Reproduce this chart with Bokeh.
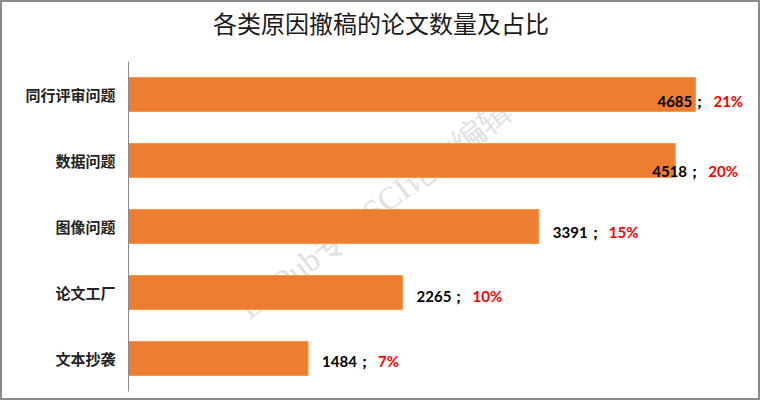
from bokeh.plotting import figure
from bokeh.models import Range1d, Label, ColumnDataSource, FixedTicker
from bokeh.core.properties import value
from bokeh.embed import file_html
from bokeh.resources import INLINE

# ---- data ----
categories = ["同行评审问题", "数据问题", "图像问题", "论文工厂", "文本抄袭"]
counts = [4685, 4518, 3391, 2265, 1484]
shares = [21, 20, 15, 10, 7]
title_text = "各类原因撤稿的论文数量及占比"
watermark_text = "LetPub专业SCI论文编辑"

# ---- label placement styles (pixels) ----
label_dx = [-38, -23, 14, 14, 14]
label_dy = [6, 10, 5, 3, 2]
pct_gap = 56

BAR = "#ED7D31"
CJK = "Noto Sans CJK SC"
X_MAX = 5140
N = len(categories)
ypos = [N - 1 - i for i in range(N)]          # first category on top
Y_TOP = N - 0.5 + 59 / 66                     # room above the bars for the title

p = figure(
    width=760, height=400,
    y_range=Range1d(-0.5, Y_TOP),
    x_range=Range1d(0, X_MAX),
    output_backend="svg", toolbar_location=None,
    min_border_left=126, min_border_right=12,
    min_border_top=0, min_border_bottom=11,
)
p.styles = {"border": "2px solid #8c8c8c"}
p.outline_line_color = None
p.background_fill_color = "white"
p.border_fill_color = "white"
p.xgrid.visible = False
p.ygrid.visible = False
p.xaxis.visible = False

ax = p.yaxis[0]
ax.ticker = FixedTicker(ticks=ypos)
ax.major_label_overrides = {y: c for y, c in zip(ypos, categories)}
ax.bounds = (-0.5, N - 0.5)
ax.axis_line_color = "#8a8a8a"
ax.axis_line_width = 1
ax.major_tick_line_color = None
ax.minor_tick_line_color = None
ax.major_tick_out = 0
ax.major_tick_in = 0
ax.minor_tick_out = 0
ax.major_label_standoff = 13
ax.major_label_text_font = CJK
ax.major_label_text_font_size = "15px"
ax.major_label_text_font_style = "bold"
ax.major_label_text_color = "#222222"

# chart title
title = Label(x=X_MAX * 0.406, y=Y_TOP - 19.5 / 66, text=title_text,
              text_font=CJK, text_font_size="24px", text_color="#1a1a1a",
              text_align="center", text_baseline="middle")
p.add_layout(title)

# watermark (under the bars)
wm = Label(x=946, y=0.71, text=watermark_text, angle=0.66,
           text_font="Liberation Serif", text_font_size="32px",
           text_color="#e0e0e0", text_align="left",
           text_baseline="alphabetic", level="underlay")
p.add_layout(wm)

src = ColumnDataSource(dict(
    y=ypos,
    cnt=counts,
    num_text=[f"{c}；" for c in counts],
    pct_text=[f"{s}%" for s in shares],
    dx=label_dx,
    dx2=[d + pct_gap for d in label_dx],
    dy=label_dy,
))

p.hbar(y="y", right="cnt", left=0, height=0.515, source=src,
       fill_color=BAR, line_color="#F39A4A", line_width=1)

p.text(x="cnt", y="y", text="num_text", source=src,
       x_offset="dx", y_offset="dy",
       text_font=value("Lato"), text_font_size="15px", text_font_style="bold",
       text_color="#000000", text_align="left", text_baseline="middle")
p.text(x="cnt", y="y", text="pct_text", source=src,
       x_offset="dx2", y_offset="dy",
       text_font=value("Lato"), text_font_size="15px", text_font_style="bold",
       text_color="#FF0000", text_align="left", text_baseline="middle")

open("out.html", "w").write(file_html(p, INLINE))
